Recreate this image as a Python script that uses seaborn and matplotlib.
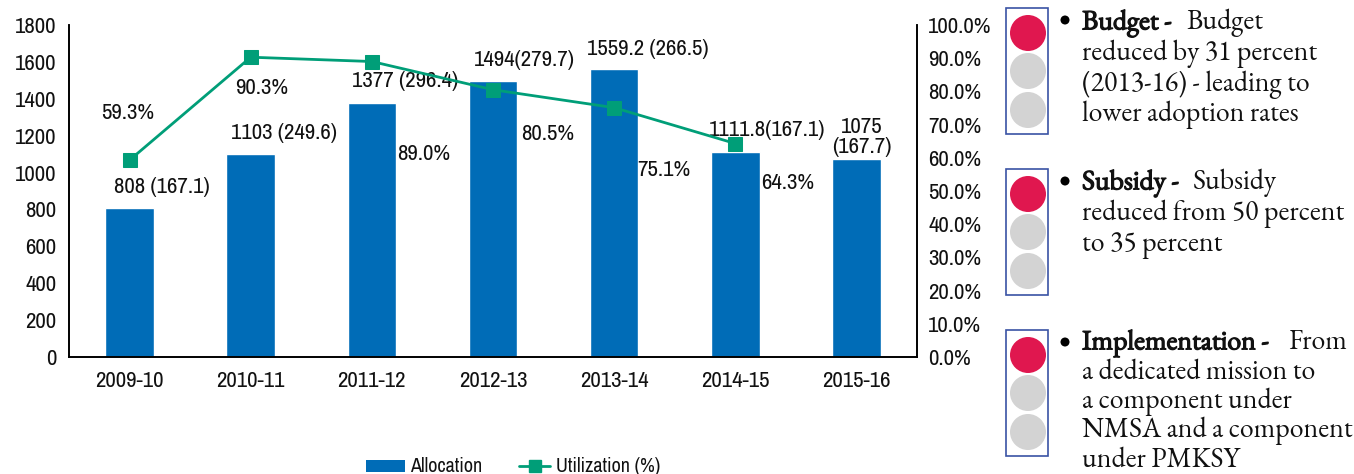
import numpy as np
import pandas as pd
import matplotlib
matplotlib.use('Agg')
import matplotlib.pyplot as plt
import matplotlib.patheffects as pe
from matplotlib.patches import Circle, Rectangle
import seaborn as sns

# Chart data
years = ['2009-10', '2010-11', '2011-12', '2012-13', '2013-14', '2014-15', '2015-16']
allocation = [808, 1103, 1377, 1494, 1559.2, 1111.8, 1075]
utilization = [59.3, 90.3, 89.0, 80.5, 75.1, 64.3]
alloc_labels = ['808 (167.1)', '1103 (249.6)', '1377 (296.4)', '1494(279.7)',
                '1559.2 (266.5)', '1111.8(167.1)', '1075\n(167.7)']
alloc_offsets = [(32, 21), (33, 21), (33, 22), (31, 21), (34, 20), (32, 22), (5, 22)]
util_offsets = [(-2, 47), (11, -31), (52, -92), (55, -44), (50, -62), (52, -39)]

# Side panel text: (x, y, text, bold)
panel_lines = [
    (1082, 23, 'Budget -', True), (1186, 23, 'Budget', False),
    (1082, 54, 'reduced by 31 percent', False),
    (1082, 85, '(2013-16) - leading to', False),
    (1082, 115, 'lower adoption rates', False),
    (1082, 183, 'Subsidy -', True), (1193, 183, 'Subsidy', False),
    (1082, 214, 'reduced from 50 percent', False),
    (1082, 245, 'to 35 percent', False),
    (1082, 343, 'Implementation -', True), (1288, 343, 'From', False),
    (1082, 373, 'a dedicated mission to', False),
    (1082, 402, 'a component under', False),
    (1082, 431, 'NMSA and a component', False),
    (1082, 461, 'under PMKSY', False),
]
light_tops = [8, 169, 330]
bullet_y = [20, 181, 342]

BLUE = '#006CB7'
GREEN = '#009E78'
SANS = ['Archivo Narrow', 'Liberation Sans']
SERIF = ['EB Garamond', 'Liberation Serif']
FS = 16.5

sns.set_theme(style='white')
plt.rcParams['font.family'] = SANS
plt.rcParams['text.color'] = '#111111'

W, H = 1354, 474
fig = plt.figure(figsize=(W / 100, H / 100), dpi=100, facecolor='white')
ax = fig.add_axes([69 / W, 1 - 357 / H, 848 / W, 332 / H])

df = pd.DataFrame({'year': years, 'allocation': allocation})
sns.barplot(data=df, x='year', y='allocation', color=BLUE, saturation=1, width=0.4, ax=ax)
ax.set_xlim(-0.5, 6.5)
ax.set_ylim(0, 1800)
ax.set_yticks(range(0, 1801, 200))
ax.set_xlabel('')
ax.set_ylabel('')
ax.tick_params(axis='both', labelsize=FS, length=0, colors='#111111')
ax.tick_params(axis='x', pad=10)
ax.tick_params(axis='y', pad=9)

ax2 = ax.twinx()
line_df = pd.DataFrame({'pos': range(len(utilization)), 'util': utilization})
sns.lineplot(data=line_df, x='pos', y='util', color=GREEN, linewidth=2, marker='s',
             markersize=9.5, markeredgecolor=GREEN, ax=ax2)
ax2.set_ylim(0, 100)
ax2.set_yticks(range(0, 101, 10))
ax2.set_yticklabels([f'{v:.1f}%' for v in range(0, 101, 10)])
ax2.set_ylabel('')
ax2.tick_params(axis='y', labelsize=FS, length=0, pad=8, colors='#111111')

for a in (ax, ax2):
    for side in a.spines:
        a.spines[side].set_visible(side != 'top')
        a.spines[side].set_color('black')
        a.spines[side].set_linewidth(1.2)

for i, (val, lab, off) in enumerate(zip(allocation, alloc_labels, alloc_offsets)):
    ax.annotate(lab, (i, val), xytext=off, textcoords='offset pixels', ha='center',
                va='center', fontsize=FS, linespacing=1.0)
for i, (val, off) in enumerate(zip(utilization, util_offsets)):
    ax2.annotate(f'{val:.1f}%', (i, val), xytext=off, textcoords='offset pixels',
                 ha='center', va='center', fontsize=FS)

# Full figure overlay in pixel coordinates for the side panel and legend
over = fig.add_axes([0, 0, 1, 1], facecolor='none')
over.set_xlim(0, W)
over.set_ylim(H, 0)
over.axis('off')

for top in light_tops:
    over.add_patch(Rectangle((1006, top), 42, 126, fc='white', ec='#3A53A4', lw=1.2))
    for k, dy in enumerate([25, 63, 102]):
        over.add_patch(Circle((1028, top + dy), 18, fc='#E0174F' if k == 0 else '#D3D3D3', ec='none'))
for y in bullet_y:
    over.add_patch(Circle((1065, y), 4.5, fc='black', ec='none'))
for x, y, txt, bold in panel_lines:
    t = over.text(x, y, txt, family=SERIF, fontsize=20, va='center', ha='left')
    if bold:
        # EB Garamond only comes in one weight here, so thicken the outline
        t.set_path_effects([pe.withStroke(linewidth=0.9, foreground='#111111')])

# Legend, placed to sit on the bottom edge as in the source
over.add_patch(Rectangle((366, 460), 39, 12, fc=BLUE, ec='none'))
over.plot([519, 550], [466, 466], color=GREEN, lw=2)
over.plot([534.5], [466], color=GREEN, marker='s', markersize=8)
over.text(410, 466, 'Allocation', fontsize=14.5, va='center', ha='left')
over.text(556, 466, 'Utilization (%)', fontsize=14.5, va='center', ha='left')
over.set_xlim(0, W)
over.set_ylim(H, 0)

fig.savefig('out.png', dpi=100)
